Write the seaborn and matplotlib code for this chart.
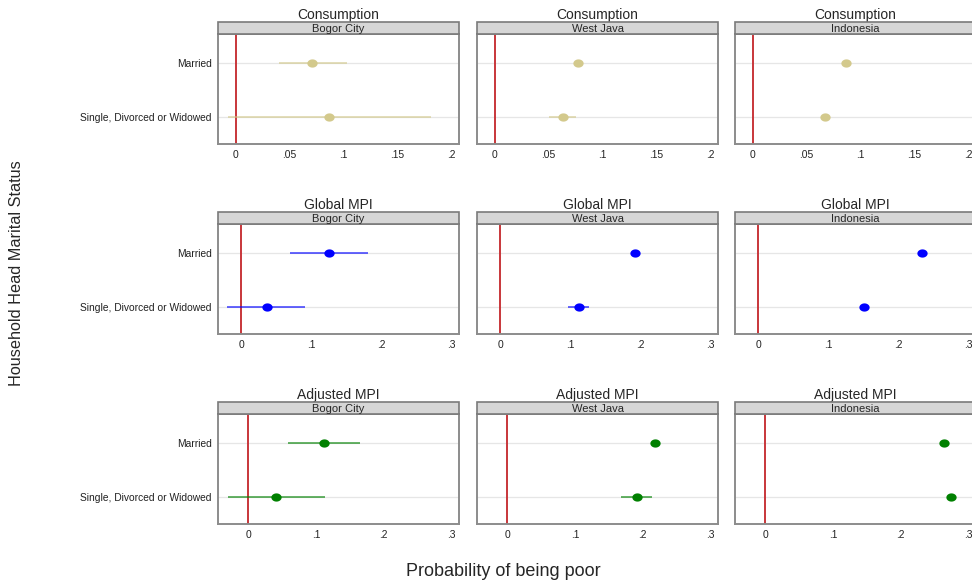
import numpy as np
import pandas as pd
import matplotlib
matplotlib.use("Agg")
import matplotlib.pyplot as plt
from matplotlib.patches import Rectangle
import seaborn as sns

# categories
measures = ["Consumption", "Global MPI", "Adjusted MPI"]
regions = ["Bogor City", "West Java", "Indonesia"]
statuses = ["Married", "Single, Divorced or Widowed"]

# values per region: Bogor City (married, single), West Java (married, single), Indonesia (married, single)
cons_est = [0.071, 0.086, 0.077, 0.063, 0.086, 0.067]
cons_lo = [0.040, -0.007, 0.075, 0.050, 0.085, 0.066]
cons_hi = [0.103, 0.181, 0.079, 0.075, 0.087, 0.068]

gmpi_est = [0.125, 0.036, 0.192, 0.112, 0.233, 0.150]
gmpi_lo = [0.069, -0.020, 0.190, 0.097, 0.232, 0.149]
gmpi_hi = [0.181, 0.090, 0.194, 0.127, 0.234, 0.151]

ampi_est = [0.112, 0.041, 0.218, 0.191, 0.264, 0.274]
ampi_lo = [0.058, -0.030, 0.216, 0.168, 0.263, 0.273]
ampi_hi = [0.165, 0.113, 0.220, 0.213, 0.265, 0.275]

measure_colors = ["#d3c98c", "#0000ff", "#008000"]
row_xlims = [(-0.0164, 0.2068), (-0.0335, 0.3104), (-0.0445, 0.3108)]
row_xticks = [[0, 0.05, 0.1, 0.15, 0.2], [0, 0.1, 0.2, 0.3], [0, 0.1, 0.2, 0.3]]

# build a long table
rows = []
for m, (est, lo, hi) in zip(measures, [(cons_est, cons_lo, cons_hi),
                                       (gmpi_est, gmpi_lo, gmpi_hi),
                                       (ampi_est, ampi_lo, ampi_hi)]):
    i = 0
    for r in regions:
        for s in statuses:
            rows.append({"measure": m, "region": r, "status": s,
                         "est": est[i], "lo": lo[i], "hi": hi[i]})
            i += 1
df = pd.DataFrame(rows)

sns.set_style("white")
plt.rcParams["font.family"] = ["Liberation Sans", "DejaVu Sans"]

W, H = 972, 581
fig = plt.figure(figsize=(W / 100, H / 100), dpi=100)

col_left = [218, 477, 735]
row_top = [34, 224, 414]
ax_w, ax_h = 241, 110
strip_h = 12

# slightly flattened round marker, as in the original
t = np.linspace(0, 2 * np.pi, 40)
ellipse = np.column_stack([np.cos(t), 0.8 * np.sin(t)])


def fmt(v):
    if v == 0:
        return "0"
    return ("%g" % v).replace("0.", ".")


for i, m in enumerate(measures):
    for j, r in enumerate(regions):
        ax = fig.add_axes([col_left[j] / W, 1 - (row_top[i] + ax_h) / H, ax_w / W, ax_h / H])
        sub = df[(df.measure == m) & (df.region == r)]
        c = measure_colors[i]

        sns.scatterplot(data=sub, x="est", y="status", ax=ax, color=c, marker=ellipse,
                        s=55, linewidth=0, zorder=4, legend=False)
        ax.hlines(sub["status"], sub["lo"], sub["hi"], color=c, lw=1.4, alpha=0.6, zorder=3)
        ax.axvline(0, color="#c8363a", lw=1.4, zorder=2)

        ax.set_ylim(1.5, -0.54)
        ax.set_xlim(*row_xlims[i])
        ax.set_xticks(row_xticks[i])
        ax.set_xticklabels([fmt(v) for v in row_xticks[i]])
        ax.set_xlabel("")
        ax.set_ylabel("")
        ax.grid(axis="y", color="#e6e6e6", lw=0.9)
        ax.set_axisbelow(True)
        ax.tick_params(axis="both", labelsize=7.4, colors="#222222", length=2.5, width=0.8,
                       pad=2, direction="out")
        ax.tick_params(axis="both", color="#777777")
        if j > 0:
            ax.tick_params(axis="y", labelleft=False, length=0)
        for sp in ax.spines.values():
            sp.set_color("#8c8c8c")
            sp.set_linewidth(1.4)

        # strip header
        ax.add_patch(Rectangle((0, 1), 1, strip_h / ax_h, transform=ax.transAxes,
                               facecolor="#d6d6d6", edgecolor="#7a7a7a", lw=1.2,
                               clip_on=False, zorder=5))
        ax.text(0.5, 1 + 4.5 / ax_h, r, transform=ax.transAxes,
                ha="center", va="center", fontsize=8, zorder=6)
        ax.text(0.5, 1 + 19 / ax_h, m, transform=ax.transAxes,
                ha="center", va="center", fontsize=10)

fig.text(17 / W, 1 - 273 / H, "Household Head Marital Status", rotation=90,
         ha="center", va="center", fontsize=11.7)
fig.text(503 / W, 1 - 571.5 / H, "Probability of being poor",
         ha="center", va="center", fontsize=13)

fig.savefig("out.png", dpi=100)
